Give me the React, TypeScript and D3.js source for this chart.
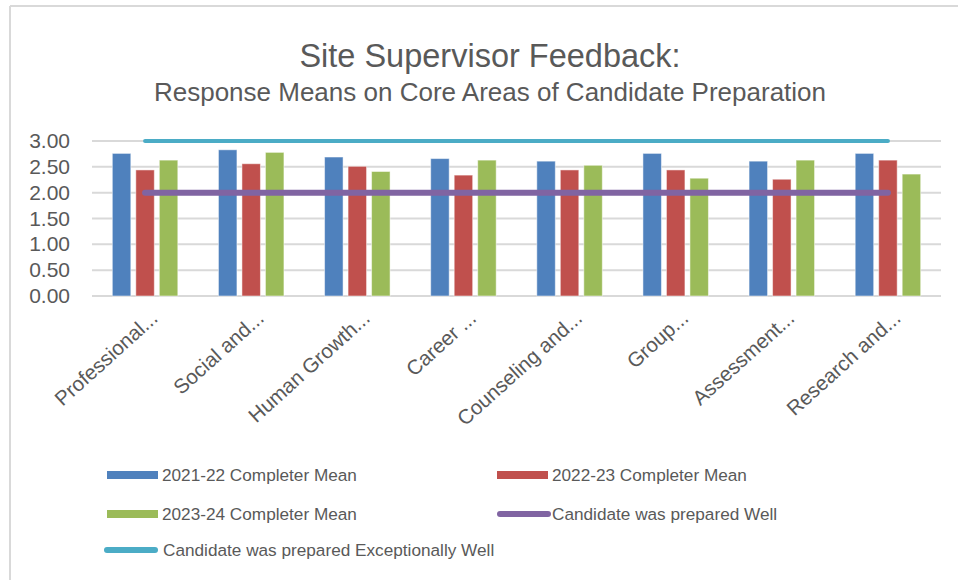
import React from "react";
import * as d3 from "d3";

const categories = [
  "Professional...",
  "Social and...",
  "Human Growth...",
  "Career ...",
  "Counseling and...",
  "Group...",
  "Assessment...",
  "Research and...",
];
const mean2122 = [2.76, 2.83, 2.69, 2.66, 2.61, 2.76, 2.61, 2.76];
const mean2223 = [2.44, 2.56, 2.51, 2.34, 2.44, 2.44, 2.26, 2.63];
const mean2324 = [2.63, 2.78, 2.41, 2.63, 2.53, 2.28, 2.63, 2.36];
const preparedWell = [2, 2, 2, 2, 2, 2, 2, 2];
const preparedExceptionally = [3, 3, 3, 3, 3, 3, 3, 3];
const yTicks = [0, 0.5, 1, 1.5, 2, 2.5, 3];

const barSeries = [
  { name: "2021-22 Completer Mean", values: mean2122, color: "#4F81BD" },
  { name: "2022-23 Completer Mean", values: mean2223, color: "#C0504D" },
  { name: "2023-24 Completer Mean", values: mean2324, color: "#9BBB59" },
];
const lineSeries = [
  { name: "Candidate was prepared Well", values: preparedWell, color: "#8064A2", width: 6 },
  { name: "Candidate was prepared Exceptionally Well", values: preparedExceptionally, color: "#4BACC6", width: 4 },
];

const FONT = "'Liberation Sans', Arial, sans-serif";
const TEXT = "#595959";

export default function App() {
  const W = 958, H = 580;
  const x0 = 92, x1 = 941, yTop = 141, yBot = 296;
  const x = d3.scaleBand<string>().domain(categories).range([x0, x1]).paddingInner(0).paddingOuter(0);
  const y = d3.scaleLinear().domain([0, 3]).range([yBot, yTop]);
  const bw = 18.5, gap = 5;
  const groupW = bw * 3 + gap * 2;

  const line = d3.line<number>()
    .x((_, i) => (x(categories[i]) as number) + x.bandwidth() / 2)
    .y((d) => y(d));

  const legendItems = [
    { kind: "bar", s: barSeries[0], lx: 107, ly: 475 },
    { kind: "bar", s: barSeries[1], lx: 497, ly: 475 },
    { kind: "bar", s: barSeries[2], lx: 107, ly: 514 },
    { kind: "line", s: lineSeries[0], lx: 497, ly: 514 },
    { kind: "line", s: lineSeries[1], lx: 104, ly: 550 },
  ] as any[];

  return (
    <svg width={W} height={H} style={{ position: "absolute", left: 0, top: 0, background: "#fff" }} fontFamily={FONT}>
      <rect x={0} y={0} width={W} height={H} fill="#fff" />
      <line x1={10} y1={6} x2={W} y2={6} stroke="#D9D9D9" strokeWidth={2} />
      <line x1={10} y1={6} x2={10} y2={H} stroke="#D9D9D9" strokeWidth={2} />

      <text x={490} y={67} textAnchor="middle" fontSize={32.5} fill={TEXT}>Site Supervisor Feedback:</text>
      <text x={490} y={101} textAnchor="middle" fontSize={26} fill={TEXT}>Response Means on Core Areas of Candidate Preparation</text>

      {yTicks.map((t) => (
        <g key={t}>
          <line x1={x0} x2={x1} y1={y(t)} y2={y(t)} stroke="#D9D9D9" strokeWidth={2} />
          <text x={70} y={y(t) + 7} textAnchor="end" fontSize={21} fill={TEXT}>{t.toFixed(2)}</text>
        </g>
      ))}

      {barSeries.map((s, si) => (
        <g key={s.name}>
          {s.values.map((v, i) => {
            const cx = (x(categories[i]) as number) + x.bandwidth() / 2;
            const bx = cx - groupW / 2 + si * (bw + gap);
            return (
              <rect key={i} x={bx} y={y(v)} width={bw} height={y(0) - y(v)} fill={s.color}
                stroke="#ffffff" strokeOpacity={0.5} strokeWidth={1} />
            );
          })}
        </g>
      ))}

      {lineSeries.map((s) => (
        <path key={s.name} d={line(s.values) as string} fill="none" stroke={s.color} strokeWidth={s.width} strokeLinecap="round" />
      ))}

      {categories.map((c) => {
        const cx = (x(c) as number) + x.bandwidth() / 2;
        return (
          <text key={c} transform={`translate(${cx + 14},${320}) rotate(-42)`} textAnchor="end" fontSize={20.5}
            fill={TEXT}>{c}</text>
        );
      })}

      {legendItems.map((it) => (
        <g key={it.s.name}>
          {it.kind === "bar" ? (
            <rect x={it.lx} y={it.ly - 4} width={51} height={8} fill={it.s.color} />
          ) : (
            <line x1={it.lx + 3} x2={it.lx + 51} y1={it.ly} y2={it.ly} stroke={it.s.color} strokeWidth={6} strokeLinecap="round" />
          )}
          <text x={it.lx + 55 + (it.kind === "line" && it.lx < 200 ? 4 : 0)} y={it.ly + 6} fontSize={17.2} fill={TEXT}>{it.s.name}</text>
        </g>
      ))}
    </svg>
  );
}
